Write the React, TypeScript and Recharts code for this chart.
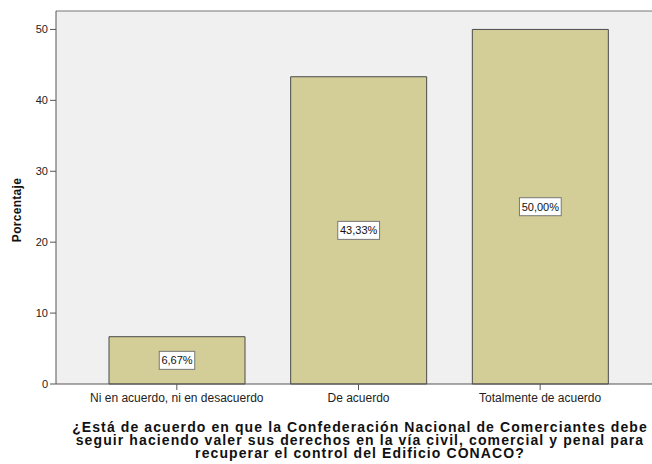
import React from 'react';
import { BarChart, Bar, XAxis, YAxis, CartesianGrid, LabelList, ReferenceLine, Label } from 'recharts';

const categories = ['Ni en acuerdo, ni en desacuerdo', 'De acuerdo', 'Totalmente de acuerdo'];
const percentages = [6.67, 43.33, 50.0];
const yTicks = [0, 10, 20, 30, 40, 50];
const yLabel = 'Porcentaje';
const xTitleLines = [
  '¿Está de acuerdo en que la Confederación Nacional de Comerciantes debe',
  'seguir haciendo valer sus derechos en la vía civil, comercial y penal para',
  'recuperar el control del Edificio CONACO?',
];
const yMax = 52.6;

const data = categories.map((c, i) => ({ name: c, value: percentages[i] }));

const FONT = '"Liberation Sans", Arial, sans-serif';

const ValueLabel = (props: any) => {
  const { x, y, width, height, value } = props;
  const cx = x + width / 2;
  const cy = y + height / 2;
  const txt = Number(value).toFixed(2).replace('.', ',') + '%';
  const w = txt.length * 6.3 + 4;
  const h = 18;
  return (
    <g>
      <rect x={cx - w / 2} y={cy - h / 2} width={w} height={h} fill="#ffffff" stroke="#777" strokeWidth={1} />
      <text x={cx} y={cy + 4} textAnchor="middle" fontSize={11} fontFamily={FONT} fill="#111">{txt}</text>
    </g>
  );
};

const XTitle = () => {
  const cx = 360;
  const baseY = 432;
  return (
    <text textAnchor="middle" fontSize={14} fontWeight="bold" fontFamily={FONT} fill="#111" letterSpacing={1.1}>
      {xTitleLines.map((l, i) => (
        <tspan key={i} x={cx} y={baseY + i * 13}>{l}</tspan>
      ))}
    </text>
  );
};

const YTitle = () => {
  const cy = 210;
  const x = 21;
  return (
    <text x={x} y={cy} transform={`rotate(-90, ${x}, ${cy})`} textAnchor="middle" fontSize={12} fontWeight="bold" fontFamily={FONT} fill="#111" letterSpacing={0.3}>
      {yLabel}
    </text>
  );
};

export default function App() {
  return (
    <div style={{ position: 'absolute', left: 0, top: 0, width: 652, height: 464, background: '#fff' }}>
      <BarChart width={652} height={464} data={data} margin={{ top: 11, right: 0, left: 0, bottom: 0 }} barSize={136}>
        <CartesianGrid fill="#f0f0f0" stroke="none" vertical={false} horizontal={false} />
        <XAxis
          dataKey="name"
          height={80}
          padding={{ left: 30, right: 21 }}
          axisLine={{ stroke: '#555' }}
          tickLine={{ stroke: '#555' }}
          tickSize={6}
          tickMargin={3}
          tick={{ fontSize: 12, fontFamily: FONT, fill: '#222' }}
          interval={0}
        >
          <Label content={<XTitle />} position="bottom" />
        </XAxis>
        <YAxis
          width={56}
          domain={[0, yMax]}
          ticks={yTicks}
          axisLine={{ stroke: '#555' }}
          tickLine={{ stroke: '#555' }}
          tickSize={6}
          tickMargin={2}
          tick={{ fontSize: 11, fontFamily: FONT, fill: '#222' }}
        >
          <Label content={<YTitle />} position="left" />
        </YAxis>
        <ReferenceLine y={yMax} stroke="#777" strokeWidth={1} />
        <Bar dataKey="value" fill="#d3ce97" stroke="#4a4a4a" strokeWidth={1} isAnimationActive={false}>
          <LabelList dataKey="value" content={<ValueLabel />} />
        </Bar>
      </BarChart>
    </div>
  );
}
